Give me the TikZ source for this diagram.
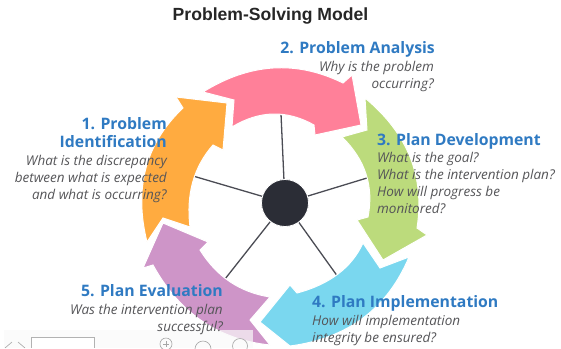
\documentclass[tikz,border=0pt]{standalone}
\usepackage{fontspec}
\usetikzlibrary{calc}
\setmainfont{Open Sans}
\newfontfamily\titlefont{Liberation Sans}
\definecolor{headblue}{HTML}{2F7AC2}
\definecolor{bodygray}{HTML}{555558}
\definecolor{hubdark}{HTML}{2B2D36}
\definecolor{cpink}{HTML}{FF8099}
\definecolor{corange}{HTML}{FFAB40}
\definecolor{cgreen}{HTML}{BCDB7C}
\definecolor{cblue}{HTML}{7AD7EF}
\definecolor{cpurple}{HTML}{CE95C8}
\tikzset{
  seg/.style={draw=white,line width=1pt,line join=miter},
  spoke/.style={draw=hubdark!85!white,line width=1.3pt},
  hubnode/.style={circle,fill=hubdark,draw=white,line width=.8pt,minimum size=47pt,inner sep=0pt},
  head/.style={text=headblue,font=\fontsize{15.8}{18}\selectfont\bfseries,inner sep=0pt},
  body/.style={text=bodygray,font=\fontsize{13.5}{17}\selectfont\itshape,inner sep=0pt},
  ctl/.style={draw=black!35,line width=.6pt,fill=none}
}
% quadratic bend from #1 with control #2 to #3, written as a path fragment
\newcommand{\qb}[3]{.. controls ($(#1)!0.6667!(#2)$) and ($(#3)!0.6667!(#2)$) .. (#3)}
\begin{document}
\begin{tikzpicture}[x=1pt,y=-1pt]
\useasboundingbox (0,0) rectangle (561,348);
\clip (0,0) rectangle (561,348);
% spokes ends
\coordinate (s1) at (281,114);
\coordinate (s2) at (367,178);
\coordinate (s3) at (338,277);
\coordinate (s4) at (225,279);
\coordinate (s5) at (193,176);
\node[hubnode] (hub) at (285,203) {};
\foreach \s in {s1,s2,s3,s4,s5} \draw[spoke] (hub) -- (\s);
\node[hubnode] at (hub) {};
% arrows
\fill[cpurple,seg] (163,223) -- (208,242) -- (200,250) \qb{200,250}{225,290}{270,297}
  -- (250,320) -- (270,345) \qb{270,345}{192.5,337}{153,265} -- (143,268) -- cycle;
\fill[cblue,seg] (363,243) -- (380,268) -- (409,257) \qb{409,257}{376.5,334.5}{290,346}
  -- (260,322) -- (290,285) -- (297,293) \qb{297,293}{346,280}{363,243} -- cycle;
\fill[cgreen,seg] (365,98) \qb{365,98}{429,151}{417,228} -- (427,235) -- (383,260)
  -- (357,220) -- (368,217) \qb{368,217}{377,171}{342,137} -- (367,130) -- cycle;
\fill[corange,seg] (176,97) -- (227,103) -- (223,150) -- (213,145) \qb{213,145}{184,178}{190,227}
  -- (163,218) -- (147,242) \qb{147,242}{127,161}{183,108} -- cycle;
\fill[cpink,seg] (203,92) \qb{203,92}{273,48.5}{343,83} -- (352,75) -- (361,125)
  -- (315,135) -- (314,125) \qb{314,125}{273,102}{232,127} -- (234,100) -- cycle;
% bottom toolbar
\fill[white!95!gray,opacity=.7] (4,330) rectangle (253,348);
\draw[ctl] (5,348) -- (12,342);
\draw[ctl] (18,342) -- (25,348);
\draw[draw=black!30,line width=.6pt,fill=white] (31,348) -- (31,337) -- (94,337) -- (94,348);
\node[ctl,circle,minimum size=12pt,inner sep=0pt] (zi) at (166,344) {};
\draw[ctl] (zi.center) ++(-3,0) -- ++(6,0);
\draw[ctl] (zi.center) ++(0,-3) -- ++(0,6);
\node[ctl,circle,minimum size=16pt,inner sep=0pt] (zo) at (203,349) {};
\node[ctl,circle,minimum size=15pt,inner sep=0pt] (zr) at (240,346) {};
% title
\node[text=black!85,font=\titlefont\fontsize{17.6}{22}\selectfont\bfseries,inner sep=0pt,anchor=base] (title) at (270.5,20) {Problem-Solving Model};
% labels
\node[head,anchor=base east] (h2) at (435,53) {2. Problem Analysis};
\node[body,anchor=north east,align=right] (b2) at (434,61) {Why is the problem\\occurring?};
\node[head,anchor=base east,align=right] (h1) at (167,129) {1. Problem};
\node[head,anchor=base east,align=right] (h1b) at (167,147) {Identification};
\node[body,anchor=north east,align=right] (b1) at (167,155) {What is the discrepancy\\between what is expected\\and what is occurring?};
\node[head,anchor=base west] (h3) at (377,145) {3. Plan Development};
\node[body,anchor=north west,align=left] (b3) at (377,152) {What is the goal?\\What is the intervention plan?\\How will progress be\\monitored?};
\node[head,anchor=base west] (h4) at (312,307) {4. Plan Implementation};
\node[body,anchor=north west,align=left] (b4) at (312,315) {How will implementation\\integrity be ensured?};
\node[head,anchor=base east] (h5) at (223,296) {5. Plan Evaluation};
\node[body,anchor=north east,align=right] (b5) at (223,304) {Was the intervention plan\\successful?};
\end{tikzpicture}
\end{document}
